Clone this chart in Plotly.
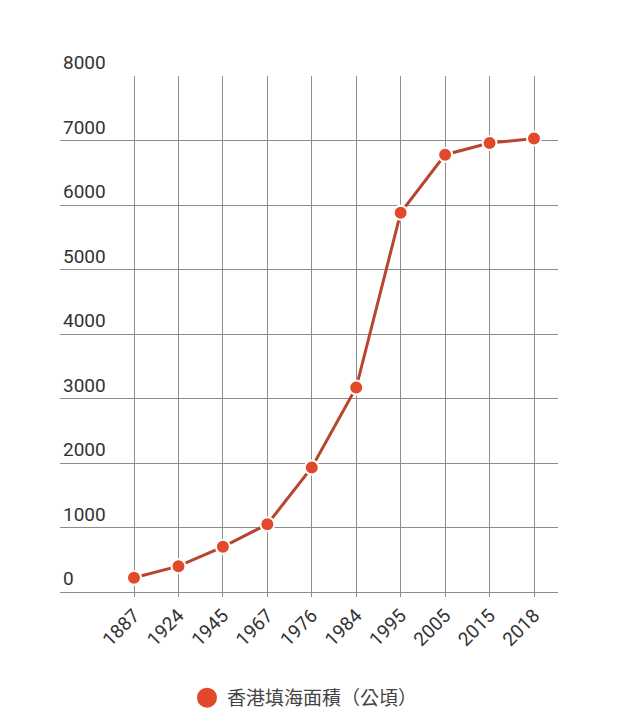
import plotly.graph_objects as go

years = ["1887", "1924", "1945", "1967", "1976", "1984", "1995", "2005", "2015", "2018"]
area = [220, 400, 700, 1050, 1930, 3170, 5880, 6780, 6960, 7030]
y_ticks = [0, 1000, 2000, 3000, 4000, 5000, 6000, 7000, 8000]
series_name = "香港填海面積（公頃）"

FONT = "Roboto, 'Noto Sans CJK TC', sans-serif"
LINE_COLOR = "#b8462f"
DOT_COLOR = "#e2492a"
GRID = "#8c8c8c"

fig = go.Figure()
fig.add_trace(go.Scatter(
    x=years, y=area, mode="lines+markers", showlegend=False,
    line=dict(color=LINE_COLOR, width=3),
    marker=dict(size=14, color=DOT_COLOR, line=dict(color="white", width=2)),
))
fig.add_trace(go.Scatter(
    x=[None], y=[None], mode="markers", name=series_name,
    marker=dict(size=16, color=DOT_COLOR, line=dict(color=DOT_COLOR, width=4)),
))

fig.update_layout(
    width=640, height=721,
    margin=dict(l=60, r=82, t=76, b=129, autoexpand=False),
    paper_bgcolor="white", plot_bgcolor="white",
    font=dict(family=FONT, color="#333333"),
    showlegend=True,
    legend=dict(orientation="h", x=0.255, xanchor="left", y=-0.205, yanchor="middle",
                font=dict(size=19, color="#444444"), itemwidth=30),
    xaxis=dict(
        type="category", range=[-1.665, 9.54], automargin=False,
        showgrid=True, gridcolor=GRID, gridwidth=1.2,
        tickangle=-45, tickfont=dict(size=19, color="#333333"),
        showline=False, zeroline=False,
        ticks="outside", ticklen=4, tickcolor=GRID, tickwidth=1.2,
    ),
    yaxis=dict(
        range=[0, 8000], tickvals=y_ticks, automargin=False,
        showgrid=True, gridcolor=GRID, gridwidth=1.2,
        ticklabelposition="inside top", ticklabeloverflow="allow",
        tickfont=dict(size=19, color="#333333"),
        showline=False, zeroline=True, zerolinecolor=GRID, zerolinewidth=1.2,
        ticks="",
    ),
)

fig.write_html("out.html")
